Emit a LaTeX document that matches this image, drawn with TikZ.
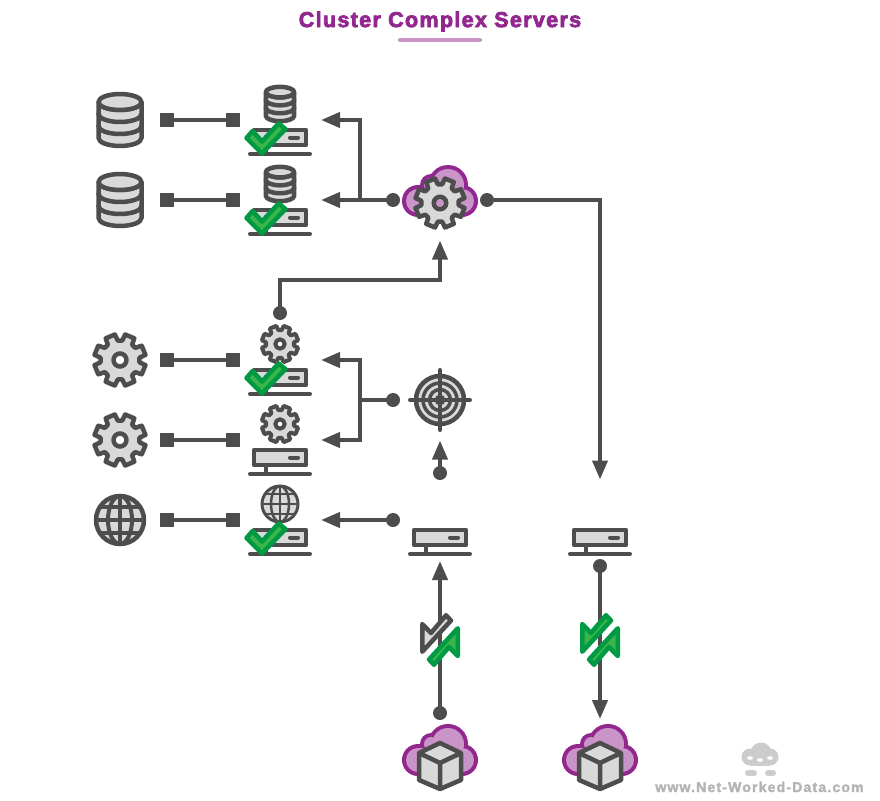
\documentclass[tikz,border=0pt]{standalone}
\usepackage{fontspec}
\setmainfont{Liberation Sans}
\usetikzlibrary{arrows.meta,calc}
\definecolor{dk}{HTML}{4D4D4D}
\definecolor{lt}{HTML}{D9D9D9}
\definecolor{pur}{HTML}{92278F}
\definecolor{lil}{HTML}{C994C7}
\definecolor{gd}{HTML}{009A44}
\definecolor{gl}{HTML}{39B54A}
\definecolor{wm}{HTML}{B3B3B3}
\definecolor{wl}{HTML}{CCCCCC}
\tikzset{
  ic/.style={draw=dk,fill=lt,line width=4.5pt,line join=round,line cap=round},
  ln/.style={draw=dk,line width=4pt},
  tip/.style={ln,-{Triangle[length=19pt,width=15pt,sharp]}},
  sq/.style={rectangle,fill=dk,minimum size=14pt,inner sep=0pt,outer sep=0pt},
  dot/.style={circle,fill=dk,minimum size=14pt,inner sep=0pt,outer sep=0pt},
  anchorpt/.style={inner sep=0pt,outer sep=0pt,minimum size=0pt},
  pics/dbicon/.style={code={
    \begin{scope}[scale=#1]
    \path[ic] (-21.5,-18) arc[start angle=180,end angle=0,x radius=21.5,y radius=8] -- (21.5,18)
      arc[start angle=0,end angle=180,x radius=21.5,y radius=8] -- cycle;
    \path[ic] (0,-18) ellipse[x radius=21.5,y radius=8];
    \path[draw=dk,line width=4.5pt,line cap=round] (-21.5,-6) arc[start angle=180,end angle=0,x radius=21.5,y radius=8];
    \path[draw=dk,line width=4.5pt,line cap=round] (-21.5,6) arc[start angle=180,end angle=0,x radius=21.5,y radius=8];
    \end{scope}}},
  pics/gearicon/.style n args={3}{code={
    \path[ic,line width=#2] (6.5:#1*0.75)
      \foreach \a in {22.5,67.5,...,337.5}{
        -- ({\a-16}:#1*0.75) -- ({\a-11}:#1) -- ({\a+11}:#1) -- ({\a+16}:#1*0.75)
      } -- cycle;
    \path[draw=dk,fill=#3,line width=#2] (0,0) circle[radius=#1*0.25];}},
  pics/globeicon/.style n args={3}{code={
    \path[ic,line width=#2] (0,0) circle[radius=#1];
    \path[draw=dk,line width=#3] (0,0) ellipse[x radius=#1*0.5,y radius=#1];
    \path[draw=dk,line width=#3] (0,-#1) -- (0,#1) (-#1,0) -- (#1,0)
      (-#1*.83,-#1*.55) -- (#1*.83,-#1*.55) (-#1*.83,#1*.55) -- (#1*.83,#1*.55);}},
  pics/servericon/.style={code={
    \path[ic] (-26,-24) rectangle (26,-9);
    \path[draw=dk,line width=4pt,line cap=round] (10,-16.5) -- (18,-16.5);
    \path[draw=dk,line width=4pt] (-14,-9) -- (-14,0);
    \path[draw=dk,line width=4pt,line cap=round] (-30,0) -- (30,0);}},
  pics/checkicon/.style={code={
    \path[draw=gd,fill=gl,line width=4.5pt,line join=round]
      (-19.5,1) -- (-13.5,-6) -- (-4,4.5) -- (12.5,-13.5) -- (19.5,-8) -- (-4,16.5) -- cycle;}},
  pics/cloudicon/.style={code={
    \foreach \cx/\cy/\r in {-22/0/16,22/0/16,8/-16/20,-9/-16/11}{
      \path[fill=pur] (\cx,\cy) circle[radius=\r];}
    \path[fill=pur] (-22,-4) rectangle (22,16);
    \foreach \cx/\cy/\r in {-22/0/12,22/0/12,8/-16/16,-9/-16/7}{
      \path[fill=lil] (\cx,\cy) circle[radius=\r];}
    \path[fill=lil] (-22,-12) rectangle (22,12);}},
  pics/cubeicon/.style={code={
    \path[ic] (0,-20) -- (21,-10) -- (21,17) -- (0,26) -- (-21,17) -- (-21,-10) -- cycle;
    \path[draw=dk,line width=4.5pt,line join=round] (-21,-10) -- (0,0) -- (21,-10) (0,0) -- (0,26);}},
  pics/targeticon/.style={code={
    \path[ic] (0,0) circle[radius=24];
    \path[draw=dk,line width=3.5pt] (0,0) circle[radius=17];
    \path[draw=dk,line width=3.5pt] (0,0) circle[radius=10.5];
    \path[fill=dk] (0,0) circle[radius=5.5];
    \path[draw=dk,line width=4pt,line cap=round] (-30,0) -- (30,0) (0,-30) -- (0,30);}},
  pics/halfarrow/.style n args={2}{code={
    \path[draw=#1,fill=#2,line width=4.5pt,line join=round]
      (-14.25,-9.5) -- (-5.5,-0.5) -- (9.5,-18.25) -- (14.5,-13) -- (-14.25,18.25) -- cycle;}},
}
\begin{document}
\begin{tikzpicture}[x=1pt,y=-1pt]
\useasboundingbox (0,0) rectangle (880,800);
% title
\node[anchorpt,text=pur,font=\fontsize{21.5}{26}\selectfont\bfseries] (title) at (440,21.5) {\addfontfeature{LetterSpace=6.2,FakeBold=3.5}Cluster Complex Servers};
\path[draw=lil,line width=4pt,line cap=round] (400,40) -- (480,40);

% connector terminals
\foreach \n/\y in {1/120,2/200,3/360,4/440,5/520}{
  \node[sq] (sa\n) at (167,\y) {};
  \node[sq] (sb\n) at (233,\y) {};
  \draw[ln] (sa\n) -- (sb\n);
  \coordinate (tp\n) at (321,\y);
}
\node[dot] (d1) at (393,200) {};
\node[dot] (d2) at (487,200) {};
\node[dot] (d3) at (280,313) {};
\node[dot] (d4) at (393,400) {};
\node[dot] (d5) at (440,473) {};
\node[dot] (d6) at (393,520) {};
\node[dot] (d7) at (440,713) {};
\node[dot] (d8) at (600,566) {};
\coordinate (j1) at (360,200);
\coordinate (j2) at (360,400);
\coordinate (t1) at (600,479.5);
\coordinate (t2) at (440,240.5);
\coordinate (t3) at (440,440.5);
\coordinate (t4) at (440,561);
\coordinate (t5) at (600,719);

\draw[tip] (d1.center) -- (tp2);
\draw[tip,line join=miter] (j1) -- (360,120) -- (tp1);
\draw[tip,line join=miter] (d2.center) -- (600,200) -- (t1);
\draw[tip,line join=miter] (d3.center) -- (280,280) -- (440,280) -- (t2);
\draw[ln] (d4.center) -- (j2);
\draw[tip,line join=miter] (j2) -- (360,360) -- (tp3);
\draw[tip,line join=miter] (j2) -- (360,440) -- (tp4);
\draw[tip] (d5.center) -- (t3);
\draw[tip] (d6.center) -- (tp5);
\draw[tip] (d7.center) -- (t4);
\draw[tip] (d8.center) -- (t5);

% left column
\path (120,120) pic {dbicon=1.0};
\path (120,200) pic {dbicon=1.0};
\path (120,360) pic {gearicon={26}{4.5pt}{white}};
\path (120,440) pic {gearicon={26}{4.5pt}{white}};
\path (120,520) pic {globeicon={24}{4.5pt}{4pt}};

% server column
\path (280,104) pic {dbicon=0.66};
\path (280,184) pic {dbicon=0.66};
\path (280,344) pic {gearicon={18.5}{4pt}{white}};
\path (280,424) pic {gearicon={18.5}{4pt}{white}};
\path (280,504) pic {globeicon={18}{3pt}{2.5pt}};
\foreach \x/\y in {280/154,280/234,280/394,280/474,280/554,440/554,600/554}{
  \path (\x,\y) pic {servericon};
}
\foreach \y in {137,217,377,537}{
  \path (266,\y) pic {checkicon};
}

% clouds and contents
\path (440,201) pic {cloudicon};
\path (440,203) pic {gearicon={25}{4.5pt}{lil}};
\path (440,400) pic {targeticon};
\path (440,760) pic {cloudicon};
\path (440,763) pic {cubeicon};
\path (600,760) pic {cloudicon};
\path (600,763) pic {cubeicon};

% sync arrows
\path (436.5,633.5) pic {halfarrow={dk}{lt}};
\path (443.5,646.5) pic[rotate=180] {halfarrow={gd}{gl}};
\path (596.5,633.5) pic {halfarrow={gd}{gl}};
\path (603.5,646.5) pic[rotate=180] {halfarrow={gd}{gl}};

% watermark
\foreach \cx/\cy/\r in {750/757/8.5,770/757/8.5,761/753/10.5}{
  \path[fill=wl] (\cx,\cy) circle[radius=\r];}
\path[fill=wl] (750,755) rectangle (770,765.5);
\foreach \x/\y in {750/758,760/760,770/758}{
  \path[fill=white] (\x,\y) ellipse[x radius=3,y radius=1.8];}
\path[draw=wl,line width=6pt,line cap=round] (748,773) -- (754,773) (768,773) -- (773,773);
\node[anchorpt,text=wm,font=\fontsize{14}{16}\selectfont\bfseries] (wmtext) at (759.5,787) {\addfontfeature{LetterSpace=8.5,FakeBold=2}www.Net-Worked-Data.com};
\end{tikzpicture}
\end{document}
